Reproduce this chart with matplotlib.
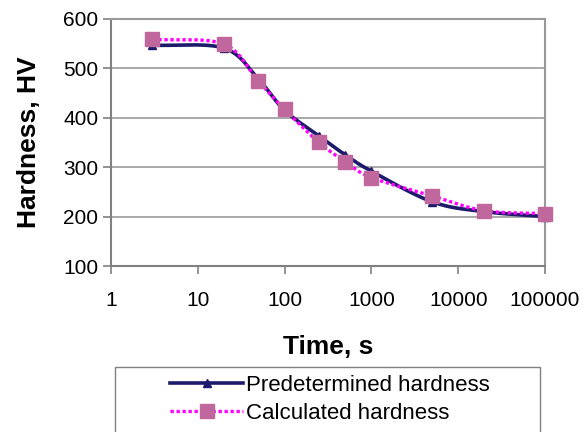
import numpy as np
import matplotlib
matplotlib.use("Agg")
import matplotlib.pyplot as plt
from matplotlib.patches import Rectangle
from matplotlib.lines import Line2D

plt.rcParams['font.family'] = ['Liberation Sans', 'DejaVu Sans']

time_s = [3, 20, 50, 100, 250, 500, 1000, 5000, 20000, 100000]
predetermined = [547, 541, 478, 415, 363, 325, 292, 230, 210, 200]
calculated = [559, 549, 474, 417, 350, 311, 279, 242, 212, 206]
x_ticks = [1, 10, 100, 1000, 10000, 100000]
x_tick_labels = ["1", "10", "100", "1000", "10000", "100000"]
y_ticks = [100, 200, 300, 400, 500, 600]


def smooth(xs, ys, n=30):
    # Catmull-Rom smoothing in log-x space (Excel-style smoothed line)
    lx = np.log10(np.asarray(xs, float))
    y = np.asarray(ys, float)
    P = np.column_stack([lx, y])
    P = np.vstack([P[0] - (P[1] - P[0]), P, P[-1] + (P[-1] - P[-2])])
    out = []
    for i in range(1, len(P) - 2):
        p0, p1, p2, p3 = P[i - 1], P[i], P[i + 1], P[i + 2]
        t = np.linspace(0, 1, n, endpoint=False)[:, None]
        seg = 0.5 * ((2 * p1) + (-p0 + p2) * t + (2 * p0 - 5 * p1 + 4 * p2 - p3) * t ** 2
                     + (-p0 + 3 * p1 - 3 * p2 + p3) * t ** 3)
        out.append(seg)
    out.append(P[-2][None, :])
    out = np.vstack(out)
    return 10 ** out[:, 0], out[:, 1]


fig = plt.figure(figsize=(5.87, 4.32), dpi=100)
ax = fig.add_axes([111 / 587, 1 - 266 / 432, (545 - 111) / 587, (266 - 19) / 432])

navy = "#1C1A6A"
magenta = "#FF00FF"
sq_color = "#C0689E"

sx, sy = smooth(time_s, predetermined)
ax.plot(sx, sy, color=navy, lw=2.6, zorder=3, clip_on=False)
ax.plot(time_s, predetermined, ls='none', marker='^', ms=6, color=navy, zorder=4, clip_on=False)

cx, cy = smooth(time_s, calculated)
ax.plot(cx, cy, color=magenta, lw=2.4, ls=(0, (1, 0.8)), zorder=5, clip_on=False)
ax.plot(time_s, calculated, ls='none', marker='s', ms=10, color=sq_color, zorder=6, clip_on=False)

ax.set_xscale('log')
ax.set_xlim(1, 100000)
ax.set_ylim(100, 600)
ax.set_xticks(x_ticks)
ax.set_xticklabels(x_tick_labels)
ax.xaxis.set_minor_locator(matplotlib.ticker.NullLocator())
ax.set_yticks(y_ticks)
ax.yaxis.grid(True, color="#999999", lw=1.2)
ax.set_axisbelow(True)
for s in ax.spines.values():
    s.set_color("#999999")
    s.set_linewidth(1.5)
ax.spines['bottom'].set_color("#808080")
ax.spines['left'].set_color("#808080")
ax.tick_params(axis='both', direction='out', color="#808080", length=6, width=1.2,
               labelsize=15)
ax.tick_params(axis='x', pad=12)
ax.tick_params(axis='y', pad=3)

ax.set_xlabel("Time, s", fontsize=19, fontweight='bold', labelpad=18)
ax.set_ylabel("Hardness, HV", fontsize=19, fontweight='bold', labelpad=16)

fig.add_artist(Rectangle((115 / 587, -0.05), (540 - 115) / 587, 0.05 + (432 - 367) / 432,
                         transform=fig.transFigure, fill=False, edgecolor="#808080", lw=1.0))

h1 = Line2D([], [], color=navy, lw=2.6, marker='^', ms=6)
h2 = Line2D([], [], color=magenta, lw=2.4, ls=(0, (1, 0.8)), marker='s', ms=10,
            markerfacecolor=sq_color, markeredgecolor=sq_color)
fig.legend([h1, h2], ["Predetermined hardness", "Calculated hardness"],
           loc='upper left', bbox_to_anchor=(170 / 587, 1 - 375 / 432),
           frameon=False, fontsize=16, handlelength=3.3, handletextpad=0.1,
           labelspacing=0.3, borderpad=0, borderaxespad=0)

fig.savefig("out.png", dpi=100)
